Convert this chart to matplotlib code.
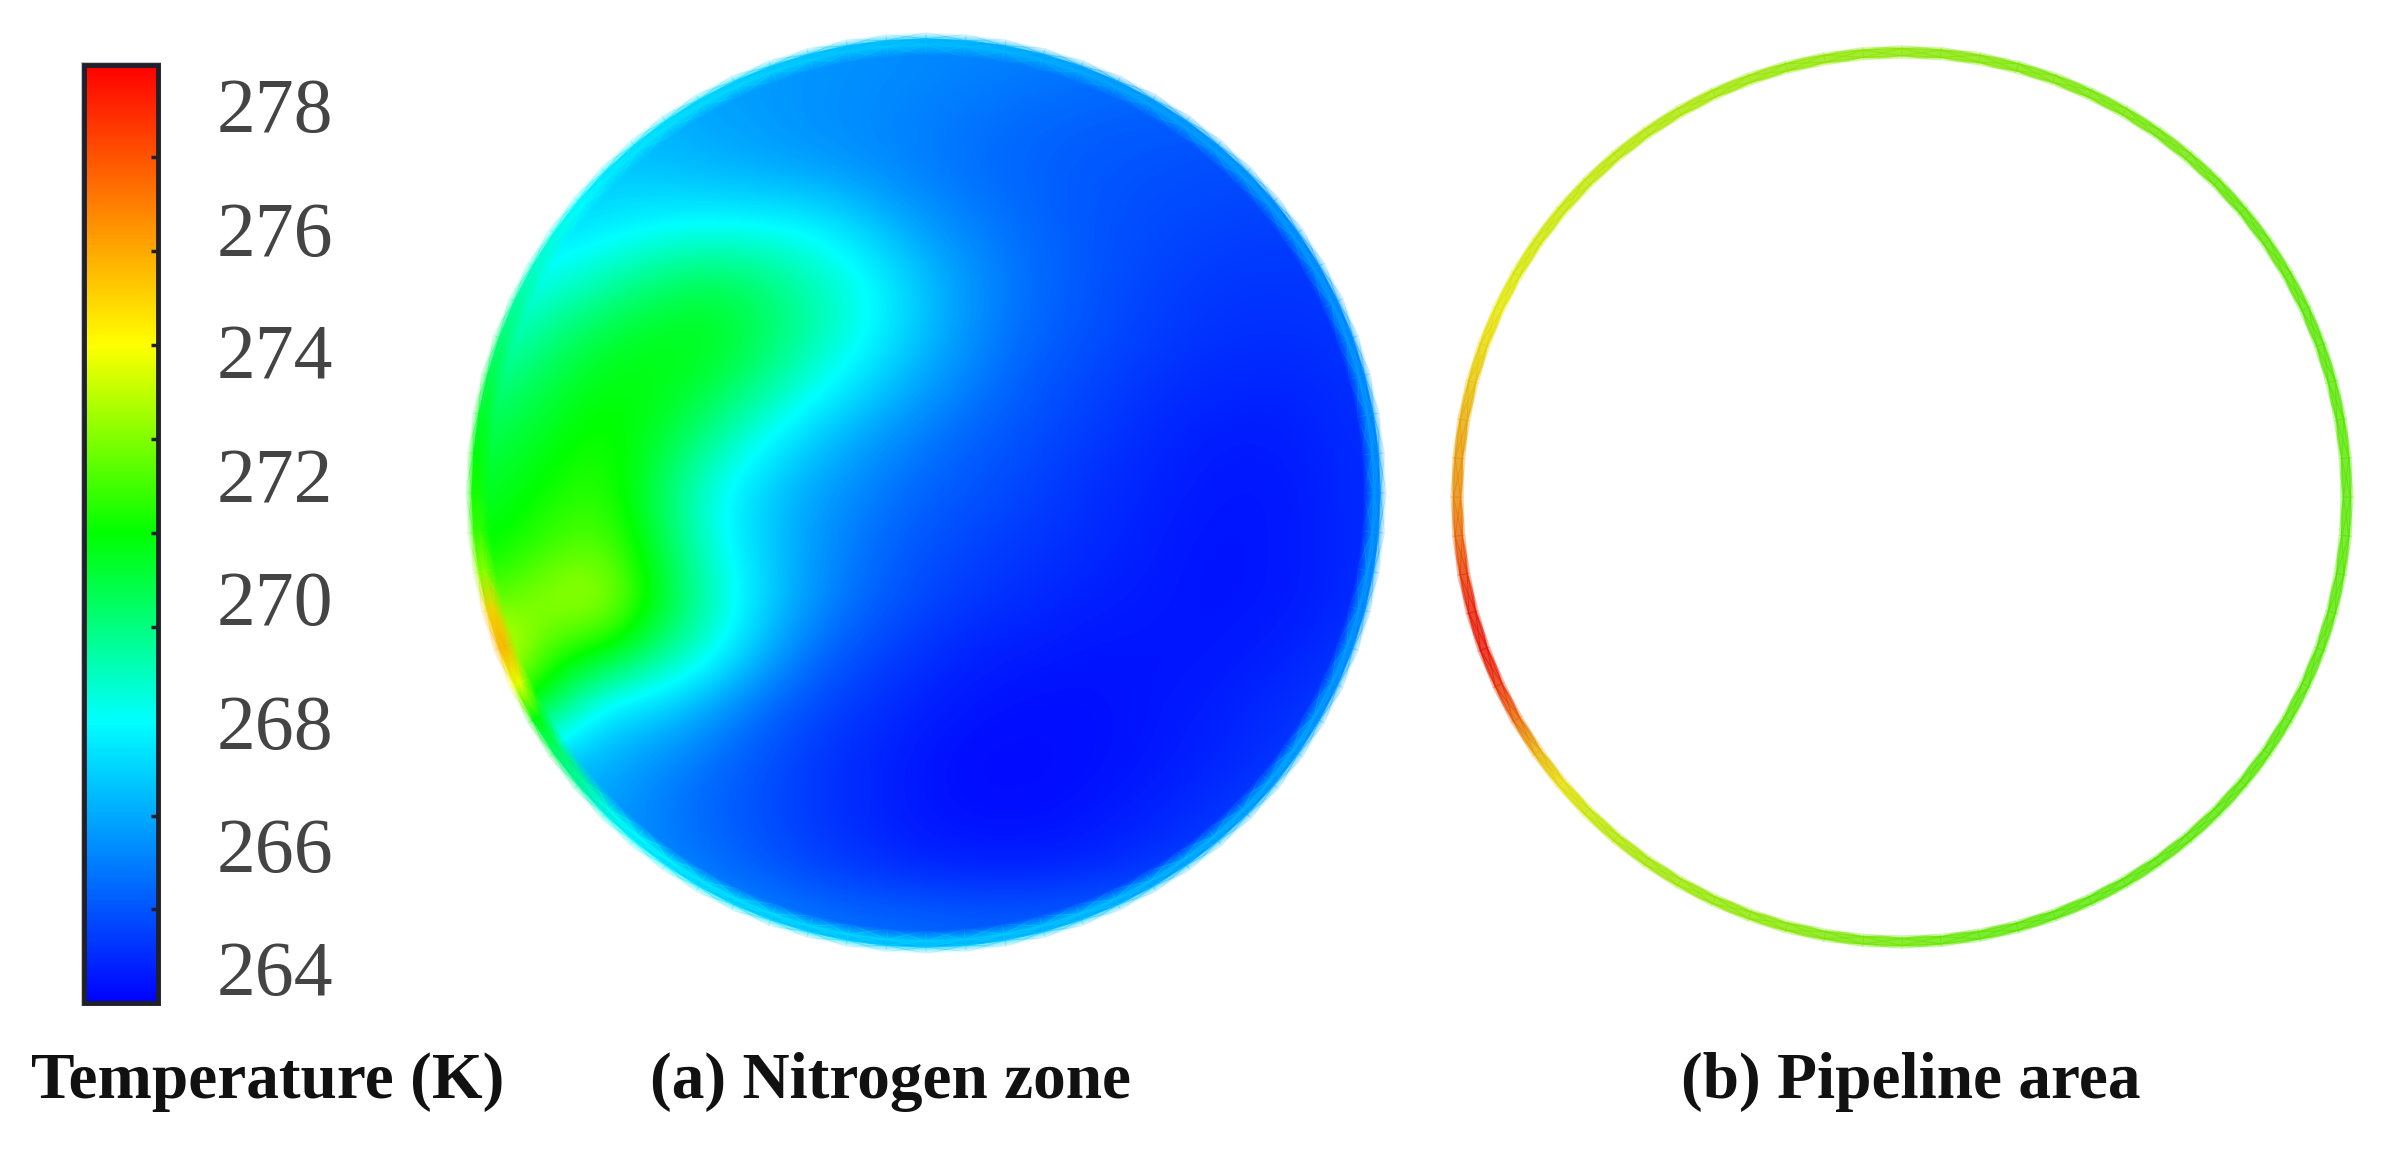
#!/usr/bin/env python3
"""Temperature field of the nitrogen zone and the pipeline ring, with a shared colour bar."""
import matplotlib
matplotlib.use("Agg")
import matplotlib.pyplot as plt
import numpy as np
from matplotlib.cm import ScalarMappable
from matplotlib.colors import LinearSegmentedColormap, Normalize
from matplotlib.patches import Circle, Rectangle

plt.rcParams["font.family"] = ["Liberation Serif", "DejaVu Serif"]

W, H = 2383, 1153

# colour scale
T_MIN, T_MAX = 263.43, 278.65
ANCHOR_TEMPS = [263.43, 268.0, 271.05, 274.11, 278.65]
ANCHOR_COLORS = ["#0000ff", "#00ffff", "#00ff00", "#ffff00", "#ff0000"]
LABEL_TICKS = [264, 266, 268, 270, 272, 274, 276, 278]
MARK_TICKS = [264.95, 266.47, 268.0, 269.53, 271.05, 272.58, 274.11, 275.63, 277.16]

# nitrogen zone, top row first, left column first; the grid spans the disk's box
ZONE_TEMPS = [
    [266.6, 266.6, 266.5, 266.4, 266.3, 266.2, 266.1, 266.0, 265.9, 265.8, 265.7, 265.6, 265.5, 265.4, 265.4, 265.4, 265.4],
    [266.8, 266.8, 266.7, 266.6, 266.4, 266.2, 266.0, 265.9, 265.7, 265.5, 265.3, 265.2, 265.1, 265.1, 265.1, 265.1, 265.1],
    [267.0, 267.0, 267.0, 266.9, 266.7, 266.5, 266.3, 266.0, 265.7, 265.4, 265.2, 265.0, 264.9, 264.8, 264.8, 264.8, 264.8],
    [267.4, 267.4, 267.6, 267.9, 268.0, 268.0, 267.8, 267.0, 266.2, 265.7, 265.3, 265.0, 264.8, 264.7, 264.6, 264.6, 264.6],
    [268.0, 268.2, 268.9, 269.6, 270.0, 269.6, 268.8, 268.0, 266.9, 266.0, 265.4, 265.0, 264.7, 264.5, 264.4, 264.4, 264.5],
    [268.6, 269.5, 270.3, 270.7, 270.8, 270.0, 269.0, 268.0, 266.9, 265.9, 265.3, 264.9, 264.6, 264.4, 264.3, 264.3, 264.4],
    [269.5, 270.3, 270.9, 270.9, 270.3, 269.3, 268.2, 267.2, 266.3, 265.6, 265.0, 264.7, 264.4, 264.2, 264.1, 264.1, 264.3],
    [270.2, 270.8, 271.4, 270.5, 269.3, 268.0, 267.0, 266.2, 265.6, 265.1, 264.8, 264.5, 264.2, 264.0, 263.9, 264.0, 264.2],
    [270.6, 271.3, 271.6, 270.0, 268.2, 267.1, 266.3, 265.7, 265.2, 264.9, 264.6, 264.3, 264.1, 263.9, 263.8, 263.9, 264.2],
    [271.0, 271.8, 272.2, 270.3, 268.4, 267.1, 266.1, 265.4, 264.9, 264.6, 264.4, 264.2, 264.0, 263.8, 263.8, 263.9, 264.2],
    [272.0, 273.0, 273.2, 270.8, 268.9, 267.3, 266.0, 265.2, 264.7, 264.4, 264.2, 264.0, 263.9, 263.8, 263.8, 263.9, 264.2],
    [274.5, 271.5, 271.0, 269.5, 268.3, 266.6, 265.3, 264.7, 264.3, 264.0, 263.9, 263.8, 263.8, 263.8, 263.9, 264.1, 264.4],
    [272.0, 270.0, 267.6, 267.3, 266.3, 265.3, 264.7, 264.3, 264.0, 263.8, 263.7, 263.7, 263.8, 263.9, 264.1, 264.3, 264.6],
    [268.0, 267.0, 266.6, 266.0, 265.4, 264.9, 264.4, 264.1, 263.8, 263.6, 263.6, 263.7, 263.8, 264.0, 264.2, 264.5, 264.8],
    [266.8, 266.6, 266.3, 265.7, 265.2, 264.8, 264.4, 264.1, 263.8, 263.7, 263.7, 263.8, 264.0, 264.2, 264.5, 264.8, 265.0],
    [266.6, 266.4, 266.2, 265.9, 265.5, 265.0, 264.6, 264.3, 264.1, 264.0, 264.0, 264.1, 264.3, 264.6, 264.9, 265.1, 265.2],
    [266.6, 266.5, 266.4, 266.3, 266.1, 265.9, 265.6, 265.4, 265.3, 265.2, 265.2, 265.3, 265.4, 265.5, 265.6, 265.6, 265.6],
]

# both rings are read every 5 degrees, counter-clockwise from east
RING_ANGLES = list(range(0, 365, 5))

# temperature on the disk's lighter rim
RIM_TEMPS = [266.2, 266.2, 266.2, 266.2, 266.2, 266.2, 266.2, 266.2, 266.2, 266.3,
             266.3, 266.3, 266.4, 266.4, 266.5, 266.6, 266.7, 266.8, 266.9,
             267.0, 267.0, 267.1, 267.2, 267.3, 267.4,
             267.5, 267.6, 267.7, 268.0, 268.3, 268.7, 269.2, 269.7, 270.2,
             270.6, 271.0, 271.3, 271.8, 272.8, 275.0, 275.5, 274.0, 271.0,
             270.0, 269.3, 268.3, 268.0, 267.8, 267.6, 267.5, 267.4, 267.3,
             267.3, 267.2, 267.2, 267.1, 267.1, 267.0, 267.0, 266.9, 266.8,
             266.7, 266.7, 266.6, 266.5, 266.5, 266.4, 266.3, 266.3, 266.2,
             266.2, 266.2, 266.2]

# pipeline wall
PIPE_TEMPS = [272.2, 272.2, 272.2, 272.2, 272.2, 272.2, 272.3, 272.3, 272.3, 272.4,
              272.5, 272.5, 272.6, 272.6, 272.7, 272.7, 272.8, 272.8, 272.9,
              272.9, 273.0, 273.0, 273.1, 273.2, 273.3,
              273.4, 273.5, 273.6, 273.7, 273.8, 273.9, 274.1, 274.4, 274.8,
              275.3, 275.7, 276.0, 276.7, 277.6, 278.2, 278.3, 277.8, 276.6,
              275.2, 274.3, 273.7, 273.4, 273.2, 273.1, 273.0, 272.9, 272.8,
              272.7, 272.6, 272.5, 272.4, 272.3, 272.3, 272.2, 272.2, 272.2,
              272.2, 272.2, 272.2, 272.2, 272.2, 272.2, 272.2, 272.2, 272.2,
              272.2, 272.2, 272.2]

LABELS = ["Temperature (K)", "(a) Nitrogen zone", "(b) Pipeline area"]


def px_axes(fig, left, top, right, bottom):
    return fig.add_axes([left / W, 1 - bottom / H, (right - left) / W, (bottom - top) / H])


def soft_band(ax, angles, temps, radii, alphas, cmap, norm, shade=1.0):
    # annulus with colour along the angle and alpha across the radius
    th = np.radians(angles)
    rr = np.array(radii)[:, None]
    x = rr * np.cos(th)
    y = rr * np.sin(th)
    rgba = np.repeat(cmap(norm(np.array(temps)))[None, :, :], len(radii), axis=0)
    rgba[:, :, :3] *= shade
    rgba[:, :, 3] = np.array(alphas)[:, None]
    ax.pcolormesh(x, y, rgba, shading="gouraud", rasterized=True)


def main():
    cmap = LinearSegmentedColormap.from_list(
        "temp",
        [((t - T_MIN) / (T_MAX - T_MIN), c) for t, c in zip(ANCHOR_TEMPS, ANCHOR_COLORS)],
        N=512,
    )
    norm = Normalize(T_MIN, T_MAX)

    fig = plt.figure(figsize=(W / 100, H / 100), dpi=100, facecolor="white")

    # colour bar, with the grey halo behind it
    fig.add_artist(Rectangle((81 / W, 1 - 1006 / H), 80 / W, 944 / H, transform=fig.transFigure,
                             facecolor="#c4c4ca", edgecolor="none", zorder=-1))
    cax = px_axes(fig, 84, 65, 158, 1003)
    cb = fig.colorbar(ScalarMappable(norm=norm, cmap=cmap), cax=cax)
    cb.outline.set_edgecolor("#20202a")
    cb.outline.set_linewidth(3.5)
    cb.set_ticks(LABEL_TICKS)
    cb.ax.minorticks_off()
    cb.ax.set_yticks(MARK_TICKS, minor=True)
    cb.ax.tick_params(which="major", length=0, pad=42, labelsize=56, labelcolor="#444444")
    cb.ax.tick_params(which="minor", length=5, width=2.5, direction="in", color="#20202a")

    # nitrogen zone
    ax = px_axes(fig, 926 - 470, 493 - 470, 926 + 470, 493 + 470)
    ax.set_xlim(-470 / 455, 470 / 455)
    ax.set_ylim(-470 / 455, 470 / 455)
    ax.axis("off")
    im = ax.imshow(ZONE_TEMPS, extent=(-1, 1, -1, 1), origin="upper", cmap=cmap, norm=norm,
                   interpolation="bicubic")
    im.set_clip_path(Circle((0, 0), 0.998, transform=ax.transData))
    soft_band(ax, RING_ANGLES, RIM_TEMPS, [0.962, 0.985, 0.998, 1.012], [0, 0.9, 0.7, 0], cmap, norm)

    # pipeline ring
    ax = px_axes(fig, 1902 - 470, 497 - 470, 1902 + 470, 497 + 470)
    ax.set_xlim(-470 / 445, 470 / 445)
    ax.set_ylim(-470 / 445, 470 / 445)
    ax.axis("off")
    soft_band(ax, RING_ANGLES, PIPE_TEMPS, [0.985, 0.992, 1.008, 1.015], [0, 0.8, 0.8, 0], cmap, norm, shade=0.9)

    for text, x in zip(LABELS, [268, 890, 1911]):
        fig.text(x / W, 1 - 1082 / H, text, ha="center", va="center", fontsize=47,
                 fontweight="bold", color="#111111")

    fig.savefig("out.png", dpi=100)
    plt.close(fig)


if __name__ == "__main__":
    main()
